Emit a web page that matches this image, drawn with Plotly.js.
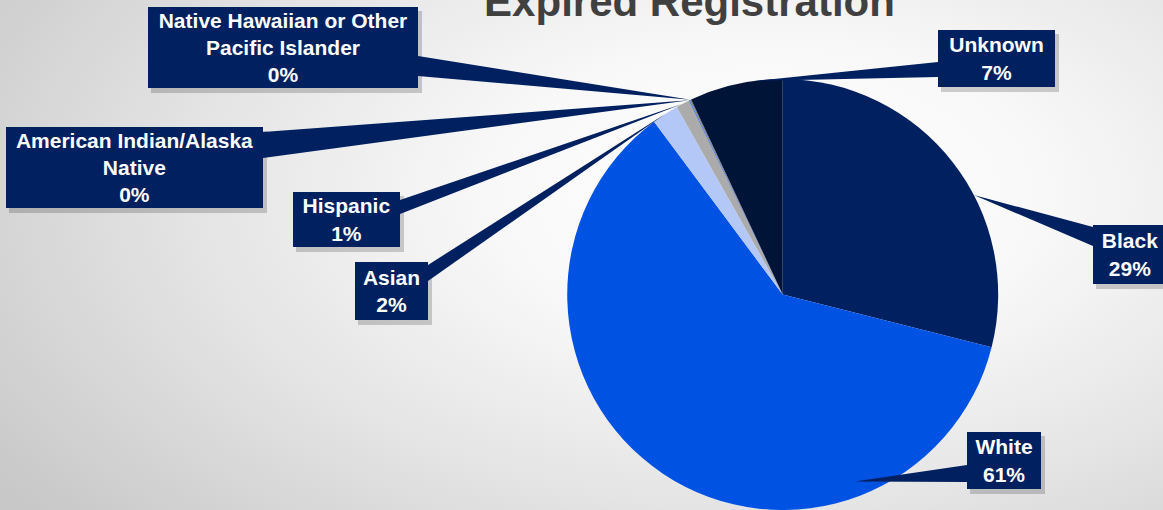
<!DOCTYPE html>
<html><head><meta charset="utf-8">
<script src="https://cdn.plot.ly/plotly-3.0.1.min.js"></script>
<style>
html,body{margin:0;padding:0;background:#fff;}
#chart{width:1163px;height:510px;background:radial-gradient(ellipse 80% 100% at 66% 38%, #ffffff 0%, #f8f8f8 30%, #e4e4e4 62%, #c8c8c8 100%);}
</style></head>
<body><div id="chart"></div>
<script>
// ---- data ----
const categories = ['Black', 'White', 'Asian', 'Hispanic', 'American Indian/Alaska Native', 'Native Hawaiian or Other Pacific Islander', 'Unknown'];
const values = [29, 61, 2, 1, 0.1, 0.1, 7];
const labelText = ['Black', 'White', 'Asian', 'Hispanic', 'American Indian/Alaska<br>Native', 'Native Hawaiian or Other<br>Pacific Islander', 'Unknown'];
const colors = ['#002060', '#0052E2', '#B4C8F8', '#ABABAB', '#5B7FD0', '#7F7F7F', '#001438'];

// ---- layout constants (pixels) ----
const W = 1163, H = 510;
const dom = {x: [0.487, 0.859], y: [0, 0.845]};
const callouts = [
  {x0: 1093, y0: 225, x1: 1167, y1: 284, side: 'left',  b0: 227, b1: 246, f: 0.6,  r: 1.0},
  {x0: 967,  y0: 432, x1: 1041, y1: 489, side: 'left',  b0: 465, b1: 482, f: 0.25, r: 0.93},
  {x0: 355,  y0: 262, x1: 428,  y1: 320, side: 'right', b0: 265, b1: 281, f: 0.5,  r: 1.0},
  {x0: 293,  y0: 192, x1: 400,  y1: 247, side: 'right', b0: 200, b1: 214, f: 0.5,  r: 1.0},
  {x0: 6,    y0: 127, x1: 263,  y1: 208, side: 'right', b0: 132, b1: 158, f: 0.5,  r: 1.0},
  {x0: 148,  y0: 7,   x1: 418,  y1: 88,  side: 'right', b0: 56,  b1: 76,  f: 0.5,  r: 1.0},
  {x0: 938,  y0: 30,  x1: 1055, y1: 87,  side: 'left',  b0: 62,  b1: 77,  f: 0.7,  r: 1.0}
];
const navy = '#002060';
const FONT = 'Liberation Sans, Arial, sans-serif';

const px = x => x / W;
const py = y => 1 - y / H;

const total = values.reduce((a, b) => a + b, 0);
const cx = (dom.x[0] + dom.x[1]) / 2 * W;
const cy = H - (dom.y[0] + dom.y[1]) / 2 * H;
const R = Math.min((dom.x[1] - dom.x[0]) * W, (dom.y[1] - dom.y[0]) * H) / 2;

const shapes = [];
const annotations = [];
let start = 0;
values.forEach((v, i) => {
  const span = v / total * 360;
  const c = callouts[i];
  const a = (start + c.f * span) * Math.PI / 180;
  start += span;
  const tx = cx + R * c.r * Math.sin(a);
  const ty = cy - R * c.r * Math.cos(a);
  const bx = c.side === 'left' ? c.x0 : c.x1;
  // shadow
  shapes.push({type: 'rect', xref: 'paper', yref: 'paper', layer: 'below',
    x0: px(c.x0 + 3), x1: px(c.x1 + 4), y0: py(c.y0 + 4), y1: py(c.y1 + 5),
    fillcolor: 'rgba(0,0,0,0.18)', line: {width: 0}});
  // leader wedge
  shapes.push({type: 'path', xref: 'paper', yref: 'paper', layer: 'above',
    path: `M ${px(bx)},${py(c.b0)} L ${px(bx)},${py(c.b1)} L ${px(tx)},${py(ty)} Z`,
    fillcolor: navy, line: {width: 0}});
  const pct = Math.round(v / total * 100);
  annotations.push({
    xref: 'paper', yref: 'paper',
    x: px((c.x0 + c.x1) / 2), y: py((c.y0 + c.y1) / 2),
    xanchor: 'center', yanchor: 'middle',
    width: c.x1 - c.x0, height: c.y1 - c.y0,
    text: '<b>' + labelText[i] + '<br>' + pct + '%</b>',
    showarrow: false, align: 'center', valign: 'middle',
    bgcolor: navy, borderpad: 0, borderwidth: 0,
    font: {family: FONT, size: 21, color: '#ffffff'}
  });
});

const trace = {
  type: 'pie',
  labels: categories,
  values: values,
  sort: false,
  direction: 'clockwise',
  rotation: 0,
  textinfo: 'none',
  hoverinfo: 'skip',
  marker: {colors: colors, line: {width: 0}},
  domain: dom
};

const layout = {
  width: W, height: H,
  margin: {l: 0, r: 0, t: 0, b: 0},
  paper_bgcolor: 'rgba(0,0,0,0)',
  plot_bgcolor: 'rgba(0,0,0,0)',
  showlegend: false,
  title: {
    text: '<b>Expired Registration</b>',
    font: {family: FONT, size: 42, color: '#404040'},
    x: 689.5 / W, xanchor: 'center', xref: 'paper',
    y: 1 - 16 / H, yref: 'container', yanchor: 'bottom'
  },
  shapes: shapes,
  annotations: annotations
};

Plotly.newPlot('chart', [trace], layout, {displayModeBar: false, staticPlot: true});
</script>
</body></html>
